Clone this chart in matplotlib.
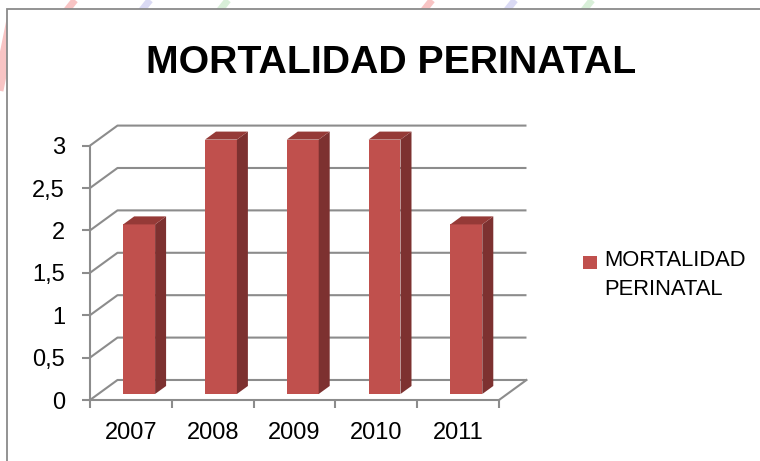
import numpy as np
import matplotlib.pyplot as plt
from matplotlib.patches import Polygon, Rectangle
from matplotlib.lines import Line2D

# data
years = ['2007', '2008', '2009', '2010', '2011']
values = [2, 3, 3, 3, 2]
y_ticks = [0, 0.5, 1, 1.5, 2, 2.5, 3]
y_labels = ['0', '0,5', '1', '1,5', '2', '2,5', '3']
series_name = 'MORTALIDAD PERINATAL'

W, H = 760, 461
front_col = '#C0504D'
side_col = '#7D3130'
top_col = '#953A37'
grid_col = '#8C8C8C'
fonts = ['Liberation Sans', 'DejaVu Sans']

fig = plt.figure(figsize=(W / 100, H / 100), dpi=100)
fig.patch.set_facecolor('white')

# faint decorative strokes behind the chart frame
for x0, col in [(75, '#F8C4C4'), (150, '#DADAF4'), (228, '#D8EFD8'),
                (432, '#F8C4C4'), (515, '#DADAF4'), (592, '#D8EFD8')]:
    fig.add_artist(Line2D([x0 / W, (x0 - 40) / W], [1, 1 - 50 / H],
                          color=col, lw=5, zorder=-3, solid_capstyle='butt'))
fig.add_artist(Line2D([12 / W, -8 / W], [1 - 20 / H, 1 - 120 / H],
                      color='#F8C4C4', lw=8, zorder=-3))

# chart frame
fig.add_artist(Rectangle((7 / W, -0.05), 1.0, (H - 9) / H + 0.05,
                         transform=fig.transFigure, fc='white',
                         ec='#8A8A8A', lw=1.3, zorder=-1))

ax = fig.add_axes([90 / W, (H - 400) / H, 409 / W, 254.4 / H])
ax.set_xlim(0, 5)
ax.set_ylim(0, 3)
ax.patch.set_visible(False)

# wall depth offset (data units)
dx, dy = 0.336, 0.236

# side wall + back wall gridlines
for v in y_ticks:
    ax.plot([0, dx, 5 + dx], [v, v + dy, v + dy], color=grid_col, lw=1.5,
            clip_on=False, zorder=1, solid_capstyle='butt')
ax.plot([5, 5 + dx], [0, dy], color=grid_col, lw=1.5, clip_on=False, zorder=1)

# 3d columns
bw = 0.39
d0, d1 = 0.3, 0.7
ddx, ddy = (d1 - d0) * dx, (d1 - d0) * dy
centers = np.arange(len(values)) + 0.5 + d0 * dx
base = d0 * dy
bars = ax.bar(centers, values, width=bw, bottom=base, color=front_col, zorder=3)
for b in bars:
    b.set_clip_on(False)
for c, v in zip(centers, values):
    xl, xr = c - bw / 2, c + bw / 2
    ax.add_patch(Polygon([(xr, base), (xr + ddx, base + ddy),
                          (xr + ddx, base + ddy + v), (xr, base + v)],
                         closed=True, fc=side_col, ec='none', zorder=3,
                         clip_on=False))
    ax.add_patch(Polygon([(xl, base + v), (xr, base + v),
                          (xr + ddx, base + v + ddy), (xl + ddx, base + v + ddy)],
                         closed=True, fc=top_col, ec='none', zorder=3,
                         clip_on=False))

for s in ['top', 'right']:
    ax.spines[s].set_visible(False)
for s in ['left', 'bottom']:
    ax.spines[s].set_color(grid_col)
    ax.spines[s].set_linewidth(1.5)

ax.set_yticks(y_ticks)
ax.set_yticklabels(y_labels, fontsize=17, family=fonts)
ax.tick_params(axis='y', length=6, width=1.5, color=grid_col, pad=12)

ax.set_xticks(np.arange(6))
ax.set_xticklabels([])
ax.tick_params(axis='x', which='major', length=6, width=1.5, color=grid_col)
ax.set_xticks(np.arange(5) + 0.5, minor=True)
ax.set_xticklabels(years, minor=True, fontsize=17, family=fonts)
ax.tick_params(axis='x', which='minor', length=0, pad=16)

fig.text(391 / W, (H - 73) / H, series_name, ha='center', va='baseline',
         fontsize=28.3, fontweight='bold', family=fonts)

# legend
fig.add_artist(Rectangle((583 / W, (H - 269) / H), 14 / W, 13 / H,
                         transform=fig.transFigure, fc=front_col, ec='none'))
fig.text(604 / W, (H - 250) / H, 'MORTALIDAD\nPERINATAL', ha='left', va='top',
         fontsize=15.8, family=fonts, linespacing=1.5)

fig.savefig('out.png', dpi=100)
